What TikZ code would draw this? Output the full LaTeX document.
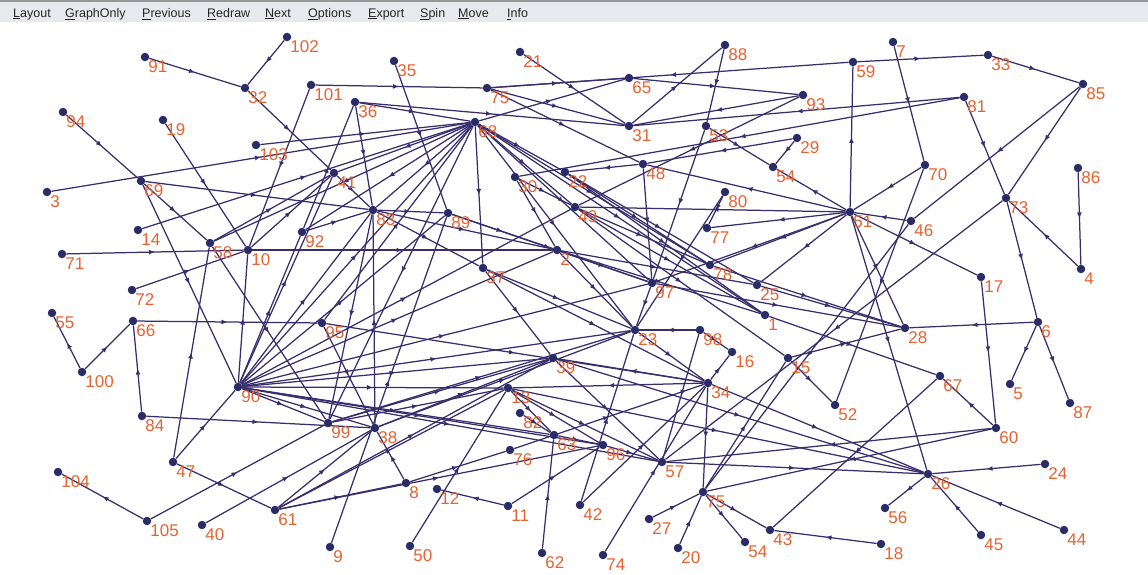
\documentclass[tikz,border=0pt]{standalone}
\usepackage{fontspec}
\setmainfont{Liberation Sans}
\usetikzlibrary{arrows.meta,decorations.markings}
\definecolor{dotblue}{RGB}{42,44,102}
\definecolor{edgeblue}{RGB}{56,46,108}
\definecolor{lblred}{RGB}{230,98,48}
\definecolor{barbg}{RGB}{232,233,238}
\pgfdeclarelayer{back}
\pgfsetlayers{back,main}
\tikzset{
  vtx/.style={circle, fill=dotblue, inner sep=0pt, minimum size=8.5pt, label distance=4.5pt},
  lbl/.style={text=lblred, inner sep=0pt, font=\fontsize{17}{17}\selectfont},
  lab/.style={label={[lbl]south east:#1}},
  menu/.style={anchor=west, inner sep=0pt, font=\fontsize{12.5}{13}\selectfont, text=black!85},
  every edge/.style={draw=edgeblue, line width=1.25pt, postaction={decorate},
    decoration={markings, mark=at position 0.5 with {\arrow{Latex[length=6pt,width=5pt]}}}},
}
\begin{document}
\begin{tikzpicture}[x=1pt, y=-1pt]
		\useasboundingbox (0,0) rectangle (1148,575);
		\fill[barbg] (0,0) rectangle (1148,22);
		\fill[black!40] (0,0) rectangle (1148,2.5);
		
		% menu
		\node[menu] (mLayout) at (13,14) {\underline{L}ayout};
		\node[menu] (mGraph) at (65,14) {\underline{G}raphOnly};
		\node[menu] (mPrev) at (142,14) {\underline{P}revious};
		\node[menu] (mRedraw) at (207,14) {\underline{R}edraw};
		\node[menu] (mNext) at (265,14) {\underline{N}ext};
		\node[menu] (mOptions) at (308,14) {\underline{O}ptions};
		\node[menu] (mExport) at (368,14) {\underline{E}xport};
		\node[menu] (mSpin) at (420,14) {\underline{S}pin};
		\node[menu] (mMove) at (458,14) {\underline{M}ove};
		\node[menu] (mInfo) at (507,14) {\underline{I}nfo};
		
		% vertices
		\node[vtx, lab=1] (n1) at (765,315) {};
		\node[vtx, lab=2] (n2) at (557,250) {};
		\node[vtx, lab=3] (n3) at (47,192) {};
		\node[vtx, lab=4] (n4) at (1081,269) {};
		\node[vtx, lab=5] (n5) at (1010,384) {};
		\node[vtx, lab=6] (n6) at (1038,322) {};
		\node[vtx, lab=7] (n7) at (893,42) {};
		\node[vtx, lab=8] (n8) at (406,483) {};
		\node[vtx, lab=9] (n9) at (330,547) {};
		\node[vtx, lab=10] (n10) at (248,250) {};
		\node[vtx, lab=11] (n11) at (508,506) {};
		\node[vtx, lab=12] (n12) at (437,489) {};
		\node[vtx, lab=13] (n13) at (508,388) {};
		\node[vtx, lab=14] (n14) at (138,230) {};
		\node[vtx, lab=15] (n15) at (788,358) {};
		\node[vtx, lab=16] (n16) at (732,352) {};
		\node[vtx, lab=17] (n17) at (981,277) {};
		\node[vtx, lab=18] (n18) at (881,544) {};
		\node[vtx, lab=19] (n19) at (163,120) {};
		\node[vtx, lab=20] (n20) at (678,548) {};
		\node[vtx, lab=21] (n21) at (520,52) {};
		\node[vtx, lab=22] (n22) at (565,172) {};
		\node[vtx, lab=23] (n23) at (635,330) {};
		\node[vtx, lab=24] (n24) at (1045,464) {};
		\node[vtx, lab=25] (n25) at (757,285) {};
		\node[vtx, lab=26] (n26) at (928,474) {};
		\node[vtx, lab=27] (n27) at (649,519) {};
		\node[vtx, lab=28] (n28) at (905,328) {};
		\node[vtx, lab=29] (n29) at (797,138) {};
		\node[vtx, lab=30] (n30) at (515,177) {};
		\node[vtx, lab=31] (n31) at (629,126) {};
		\node[vtx, lab=32] (n32) at (245,88) {};
		\node[vtx, lab=33] (n33) at (988,55) {};
		\node[vtx, lab=34] (n34) at (708,383) {};
		\node[vtx, lab=35] (n35) at (394,61) {};
		\node[vtx, lab=36] (n36) at (355,102) {};
		\node[vtx, lab=37] (n37) at (483,268) {};
		\node[vtx, lab=38] (n38) at (375,428) {};
		\node[vtx, lab=39] (n39) at (553,358) {};
		\node[vtx, lab=40] (n40) at (202,525) {};
		\node[vtx, lab=41] (n41) at (334,173) {};
		\node[vtx, lab=42] (n42) at (580,505) {};
		\node[vtx, lab=43] (n43) at (770,530) {};
		\node[vtx, lab=44] (n44) at (1064,530) {};
		\node[vtx, lab=45] (n45) at (981,535) {};
		\node[vtx, lab=46] (n46) at (911,221) {};
		\node[vtx, lab=47] (n47) at (173,462) {};
		\node[vtx, lab=48] (n48) at (643,164) {};
		\node[vtx, lab=49] (n49) at (575,207) {};
		\node[vtx, lab=50] (n50) at (410,546) {};
		\node[vtx, lab=51] (n51) at (850,212) {};
		\node[vtx, lab=52] (n52) at (835,405) {};
		\node[vtx, lab=53] (n53) at (706,126) {};
		\node[vtx, lab=54] (n54) at (773,167) {};
		\node[vtx, lab=54] (n54b) at (745,542) {};
		\node[vtx, lab=55] (n55) at (52,313) {};
		\node[vtx, lab=56] (n56) at (885,508) {};
		\node[vtx, lab=57] (n57) at (662,462) {};
		\node[vtx, lab=58] (n58) at (210,243) {};
		\node[vtx, lab=59] (n59) at (853,62) {};
		\node[vtx, lab=60] (n60) at (996,428) {};
		\node[vtx, lab=61] (n61) at (275,510) {};
		\node[vtx, lab=62] (n62) at (542,553) {};
		\node[vtx, lab=63] (n63) at (554,435) {};
		\node[vtx, lab=65] (n65) at (629,78) {};
		\node[vtx, lab=66] (n66) at (133,321) {};
		\node[vtx, lab=67] (n67) at (940,376) {};
		\node[vtx, lab=68] (n68) at (475,122) {};
		\node[vtx, lab=69] (n69) at (141,181) {};
		\node[vtx, lab=70] (n70) at (925,165) {};
		\node[vtx, lab=71] (n71) at (62,254) {};
		\node[vtx, lab=72] (n72) at (132,290) {};
		\node[vtx, lab=73] (n73) at (1006,198) {};
		\node[vtx, lab=74] (n74) at (603,555) {};
		\node[vtx, lab=75] (n75t) at (487,88) {};
		\node[vtx, lab=75] (n75) at (703,492) {};
		\node[vtx, lab=76] (n76) at (510,450) {};
		\node[vtx, lab=77] (n77) at (707,228) {};
		\node[vtx, lab=78] (n78) at (710,265) {};
		\node[vtx, lab=80] (n80) at (725,192) {};
		\node[vtx, lab=81] (n81) at (964,97) {};
		\node[vtx, lab=82] (n82) at (520,413) {};
		\node[vtx, lab=83] (n83) at (373,210) {};
		\node[vtx, lab=84] (n84) at (142,416) {};
		\node[vtx, lab=85] (n85) at (1083,84) {};
		\node[vtx, lab=86] (n86) at (1078,168) {};
		\node[vtx, lab=87] (n87) at (1070,403) {};
		\node[vtx, lab=88] (n88) at (725,45) {};
		\node[vtx, lab=89] (n89) at (448,213) {};
		\node[vtx, lab=90] (n90) at (238,387) {};
		\node[vtx, lab=91] (n91) at (145,57) {};
		\node[vtx, lab=92] (n92) at (302,232) {};
		\node[vtx, lab=93] (n93) at (803,95) {};
		\node[vtx, lab=94] (n94) at (63,112) {};
		\node[vtx, lab=95] (n95) at (322,323) {};
		\node[vtx, lab=96] (n96) at (603,445) {};
		\node[vtx, lab=97] (n97) at (652,283) {};
		\node[vtx, lab=98] (n98) at (700,330) {};
		\node[vtx, lab=99] (n99) at (328,423) {};
		\node[vtx, lab=100] (n100) at (82,372) {};
		\node[vtx, lab=101] (n101) at (311,85) {};
		\node[vtx, lab=102] (n102) at (287,37) {};
		\node[vtx, lab=103] (n103) at (256,145) {};
		\node[vtx, lab=104] (n104) at (58,472) {};
		\node[vtx, lab=105] (n105) at (147,521) {};
		
		% edges, behind the vertices
		\begin{pgfonlayer}{back}
		\path (n91) edge (n32);
		\path (n102) edge (n32);
		\path (n32) edge (n41);
		\path (n94) edge (n69);
		\path (n69) edge (n58) edge (n90) edge (n83);
		\path (n19) edge (n10);
		\path (n3) edge (n68);
		\path (n103) edge (n68);
		\path (n14) edge (n68);
		\path (n71) edge (n10);
		\path (n10) edge (n2) edge (n41);
		\path (n72) edge (n10);
		\path (n100) edge (n55) edge (n66);
		\path (n84) edge (n66) edge (n38);
		\path (n66) edge (n95);
		\path (n47) edge (n58) edge (n61) edge (n90);
		\path (n105) edge (n104) edge (n99);
		\path (n40) edge (n38);
		\path (n101) edge (n75t) edge (n10);
		\path (n75t) edge (n65) edge (n31) edge (n48);
		\path (n36) edge (n83) edge (n68) edge (n31);
		\path (n35) edge (n89);
		\path (n21) edge (n31);
		\path (n31) edge (n88);
		\path (n88) edge (n53);
		\path (n53) edge (n97) edge (n54);
		\path (n65) edge (n93);
		\path (n59) edge (n33) edge (n75t);
		\path (n51) edge (n59);
		\path (n81) edge (n31) edge (n30) edge (n73);
		\path (n93) edge (n31) edge (n49);
		\path (n7) edge (n70);
		\path (n33) edge (n85);
		\path (n85) edge (n46) edge (n73);
		\path (n73) edge (n57) edge (n6);
		\path (n4) edge (n73);
		\path (n86) edge (n4);
		\path (n70) edge (n51) edge (n52);
		\path (n46) edge (n51) edge (n75);
		\path (n51) edge (n17) edge (n54) edge (n49) edge (n77) edge (n78) edge (n25) edge (n48) edge (n97) edge (n26) edge (n28);
		\path (n17) edge (n60);
		\path (n29) edge (n54) edge (n48);
		\path (n48) edge (n97) edge (n22);
		\path (n80) edge (n77) edge (n23);
		\path (n22) edge (n78) edge (n1) edge (n25);
		\path (n30) edge (n2) edge (n49);
		\path (n89) edge (n2) edge (n97);
		\path (n37) edge (n23) edge (n39) edge (n34);
		\path (n2) edge (n97) edge (n25) edge (n1) edge (n23);
		\path (n25) edge (n28);
		\path (n1) edge (n67);
		\path (n6) edge (n28) edge (n5) edge (n87);
		\path (n60) edge (n67) edge (n57) edge (n75);
		\path (n67) edge (n43);
		\path (n15) edge (n52) edge (n28);
		\path (n75) edge (n15) edge (n43) edge (n54b);
		\path (n57) edge (n26);
		\path (n24) edge (n26);
		\path (n26) edge (n56);
		\path (n45) edge (n26);
		\path (n44) edge (n26);
		\path (n34) edge (n26) edge (n75) edge (n16) edge (n39) edge (n13);
		\path (n39) edge (n26) edge (n57);
		\path (n13) edge (n26) edge (n57) edge (n96) edge (n63);
		\path (n18) edge (n43);
		\path (n27) edge (n75);
		\path (n20) edge (n75);
		\path (n98) edge (n16) edge (n57) edge (n23);
		\path (n23) edge (n34);
		\path (n96) edge (n57);
		\path (n63) edge (n96);
		\path (n42) edge (n34) edge (n23);
		\path (n74) edge (n34);
		\path (n8) edge (n76) edge (n38);
		\path (n76) edge (n34);
		\path (n11) edge (n12) edge (n96);
		\path (n50) edge (n13);
		\path (n61) edge (n8) edge (n38) edge (n13) edge (n39) edge (n96);
		\path (n95) edge (n38) edge (n34) edge (n68);
		\path (n9) edge (n89);
		\path (n62) edge (n63);
		\path (n82) edge (n63);
		\path (n99) edge (n13) edge (n39) edge (n23);
		\path (n38) edge (n39) edge (n23) edge (n83);
		\path (n97) edge (n28) edge (n23);
		\path (n78) edge (n28);
		\path (n68) edge (n41) edge (n83) edge (n92) edge (n58) edge (n99) edge (n49) edge (n97) edge (n78) edge (n1) edge (n23) edge (n22) edge (n65) edge (n37);
		\path (n90) edge (n10) edge (n92) edge (n41) edge (n83) edge (n68) edge (n89) edge (n49) edge (n2) edge (n97) edge (n23) edge (n39) edge (n13) edge (n96) edge (n57) edge (n99) edge (n38) edge (n63);
		\path (n92) edge (n36) edge (n83);
		\path (n41) edge (n83);
		\path (n58) edge (n41) edge (n99);
		\path (n83) edge (n89) edge (n2) edge (n99) edge (n37);
		\path (n49) edge (n1) edge (n15) edge (n78);
		\end{pgfonlayer}
\end{tikzpicture}
\end{document}
